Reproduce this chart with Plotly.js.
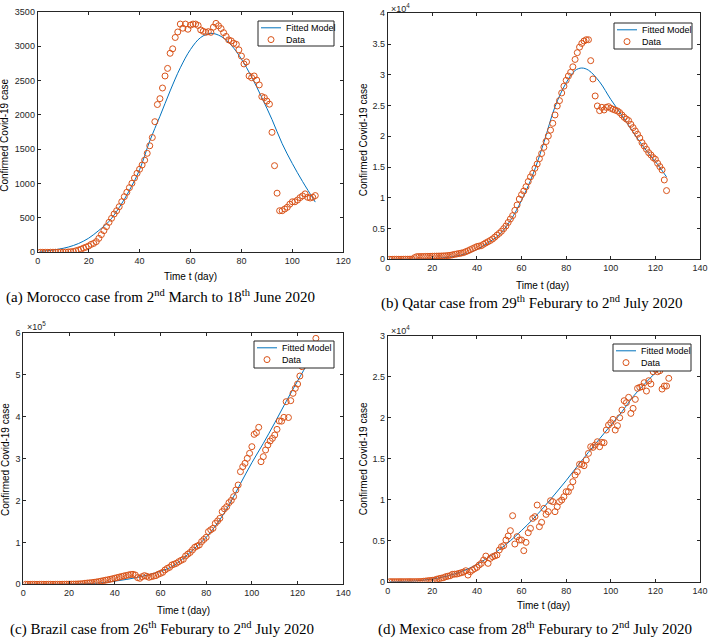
<!DOCTYPE html>
<html>
<head>
<meta charset="utf-8">
<script src="https://cdn.plot.ly/plotly-3.0.1.min.js"></script>
<style>html,body{margin:0;padding:0;background:#fff}#chart{width:709px;height:641px}</style>
</head>
<body>
<div id="chart"></div>
<script>
// ---------- DATA ----------
const seriesNames = ["Fitted Model", "Data"];
const xTitle = "Time t (day)";
const yTitle = "Confirmed Covid-19 case";
const captions = [
  "(a) Morocco case from 2<sup>nd</sup> March to 18<sup>th</sup> June 2020",
  "(b) Qatar case from 29<sup>th</sup> Feburary to 2<sup>nd</sup> July 2020",
  "(c) Brazil case from 26<sup>th</sup> Feburary to 2<sup>nd</sup> July 2020",
  "(d) Mexico case from 28<sup>th</sup> Feburary to 2<sup>nd</sup> July 2020"
];

// (a) Morocco, one value per day starting at day 1
const moroccoData = [0,0,0,0,1,1,1,2,2,2,3,
  5,8,12,22,33,45,62,75,92,115,130,155,203,257,315,373,436,494,557,605,663,736,809,873,940,1004,1081,1149,1208,1270,1340,1440,1550,1670,
  1900,2150,2235,2390,2565,2675,2895,2960,3125,3205,3320,3260,3320,3245,3305,3320,3320,3300,3235,3215,3200,3210,3200,3275,3330,3295,3255,3195,3140,3090,3075,3040,3025,2945,2855,2740,2770,2565,2540,2565,2505,2435,2265,2250,2200,2155,1745,1260,860,605,605,630,655,700,735,735,760,795,820,850,800,790,800,825];
const moroccoFitDays = [1,4,8,12,16,20,24,28,32,36,40,44,48,52,56,60,64,68,72,76,80,84,88,92,96,100,104,108,109];
const moroccoFit = [15,24,44,76,127,205,318,450,650,900,1200,1620,1979,2348,2684,2951,3125,3185,3141,3013,2811,2551,2251,1932,1580,1290,1030,790,730];

// (b) Qatar
const qatarData = [1,1,3,7,8,8,12,15,18,24,24,
  260,430,440,450,460,470,480,490,500,510,520,530,540,555,575,610,650,720,800,870,940,1010,1090,1240,1380,1560,1730,1900,2070,2150,2220,2450,2670,2860,3060,3300,3600,3930,4220,4560,4980,5420,5990,6560,7100,7960,8830,9800,10500,11100,11800,12640,13400,13980,14800,15500,16360,17200,18200,19150,20050,21000,22110,23470,24930,25800,27050,28150,29100,29800,30400,31300,32500,33600,34500,35100,35500,35700,35700,
  32300,29320,26560,24930,24170,24710,24280,24710,24820,24550,24390,24250,24120,23850,23470,23090,22800,22550,21950,21410,20870,20330,19730,18970,18430,17890,17340,16970,16530,16260,15610,15070,14530,12900,11170];
const qatarFitDays = [1,10,20,25,30,35,40,45,50,55,60,65,70,75,80,84,87,90,95,100,105,110,115,120,125];
const qatarFit = [0,20,120,250,480,900,1600,2700,4000,6300,9600,13700,19000,24800,28700,30700,31100,30750,28850,26000,23400,20700,18100,15900,13400];

// (c) Brazil
const brazilData = [0,0,0,1,1,1,2,2,3,8,13,19,25,30,50,80,120,190,280,330,420,540,620,900,1100,1500,
  2500,3000,3500,4000,4800,5500,6500,7500,8700,9800,10800,11900,13200,14500,15900,17200,18600,19900,21000,22250,23500,23800,22250,15900,14300,18300,20700,19000,16700,18300,19500,20700,23800,26000,28600,34200,38000,40500,46100,48000,50100,54000,57000,59600,67500,72000,76000,81900,88200,91000,93800,101700,107000,112000,125600,130000,133500,145400,151000,157300,173200,180000,185200,194700,200000,209000,224900,236800,268600,280500,288500,300400,312300,328200,357600,361600,374300,292400,304400,320300,332200,341700,348100,356000,369500,389400,389000,398100,435500,397700,437900,455400,467300,477600,496700,518900,530000,540000,552000,562000,572000,586500];
const brazilFitDays = [1,10,20,30,35,40,45,50,55,60,65,70,75,80,85,90,95,100,105,110,115,120,125,128];
const brazilFit = [0,100,500,2000,4000,7500,11500,16500,23000,31000,42000,62000,86000,112000,146000,189000,240000,290000,336000,385000,436000,485000,532000,560000];

// (d) Mexico
const mexicoData = [0,1,2,3,4,4,4,5,6,6,6,7,10,10,20,50,80,120,140,170,200,300,370,430,490,610,670,730,900,920,940,1020,1100,1180,1340,810,1220,1420,1600,1750,2040,2240,2650,3130,2240,2850,3050,3150,3260,3870,4270,4400,5090,5580,6230,8060,4600,5500,5090,5090,3790,4800,5980,6510,7730,7940,9360,6720,7250,8950,8220,8550,9890,9770,8550,9160,9770,9970,10380,10990,10990,11520,12210,13020,13430,14330,14330,14160,14860,15670,16480,16400,16690,17090,16480,17010,16970,18520,19130,19410,19820,18520,19050,20020,20960,22100,21860,22510,20550,21160,22260,23610,23730,23810,24300,23280,24540,24140,25640,25930,25640,25760,23520,23890,23890,24830];
const mexicoFitDays = [1,10,15,20,25,30,35,40,45,50,55,60,65,70,75,80,85,90,95,100,105,110,115,120,126];
const mexicoFit = [0,60,150,330,580,950,1450,2100,2950,3900,5000,6250,7600,9100,10700,12350,14100,15800,17450,19100,20750,22600,24100,25500,27000];

// tick labels
const tickA = [0,500,1000,1500,2000,2500,3000,3500];
const tickE4 = [0,5000,10000,15000,20000,25000,30000,35000,40000];
const tickE4Text = ["0","0.5","1","1.5","2","2.5","3","3.5","4"];
const tickE5 = [0,100000,200000,300000,400000,500000,600000];
const tickE5Text = ["0","1","2","3","4","5","6"];

// ---------- BUILD ----------
function days(n){ const d=[]; for(let i=1;i<=n;i++) d.push(i); return d; }

const BLUE = "#0072BD", ORANGE = "#D95319", AX = "#262626";
const sans = "Liberation Sans, Arial, Helvetica, sans-serif";

const panels = [
  {data: moroccoData, fd: moroccoFitDays, fv: moroccoFit},
  {data: qatarData, fd: qatarFitDays, fv: qatarFit},
  {data: brazilData, fd: brazilFitDays, fv: brazilFit},
  {data: mexicoData, fd: mexicoFitDays, fv: mexicoFit}
];

const traces = [];
panels.forEach((p, i) => {
  const sfx = i === 0 ? "" : String(i + 1);
  traces.push({
    x: p.fd, y: p.fv, type: "scatter", mode: "lines", name: seriesNames[0],
    line: {color: BLUE, width: 1, shape: "spline", smoothing: 1},
    xaxis: "x" + sfx, yaxis: "y" + sfx, showlegend: false, hoverinfo: "skip"
  });
  traces.push({
    x: days(p.data.length), y: p.data, type: "scatter", mode: "markers", name: seriesNames[1],
    marker: {symbol: "circle-open", size: 6, color: ORANGE, line: {width: 1, color: ORANGE}},
    xaxis: "x" + sfx, yaxis: "y" + sfx, showlegend: false, hoverinfo: "skip"
  });
});

function ax(extra){
  return Object.assign({
    showline: true, linecolor: AX, linewidth: 1, mirror: "ticks",
    ticks: "inside", ticklen: 3, tickwidth: 1, tickcolor: AX,
    showgrid: false, zeroline: false,
    tickfont: {family: sans, size: 9, color: AX}, fixedrange: true
  }, extra);
}

const W = 709, H = 641;
const px = v => v / W, py = v => 1 - v / H;

const layout = {
  width: W, height: H, margin: {l: 0, r: 0, t: 0, b: 0},
  paper_bgcolor: "#fff", plot_bgcolor: "#fff", showlegend: false,
  font: {family: sans, color: AX},
  xaxis:  ax({domain: [px(37.7), px(343.3)], range: [0, 120], dtick: 20, tick0: 0, anchor: "y"}),
  yaxis:  ax({domain: [py(252.3), py(11.7)], range: [0, 3500], tickvals: tickA, anchor: "x"}),
  xaxis2: ax({domain: [px(387.7), px(700)], range: [0, 140], dtick: 20, tick0: 0, anchor: "y2"}),
  yaxis2: ax({domain: [py(259.3), py(13.3)], range: [0, 40000], tickvals: tickE4, ticktext: tickE4Text, anchor: "x2"}),
  xaxis3: ax({domain: [px(23.3), px(343.3)], range: [0, 140], dtick: 20, tick0: 0, anchor: "y3"}),
  yaxis3: ax({domain: [py(584.3), py(332.7)], range: [0, 600000], tickvals: tickE5, ticktext: tickE5Text, anchor: "x3"}),
  xaxis4: ax({domain: [px(387.7), px(700)], range: [0, 140], dtick: 20, tick0: 0, anchor: "y4"}),
  yaxis4: ax({domain: [py(581.7), py(336)], range: [0, 30000], tickvals: tickE4.slice(0, 7), ticktext: tickE4Text.slice(0, 7), anchor: "x4"}),
  annotations: [],
  shapes: []
};

// compact MATLAB-style legend boxes: [left, top, right, bottom] in px
const legendBoxes = [[258, 21, 334, 46], [614, 23, 692, 49], [254, 341, 334, 368], [613, 344, 691, 371]];
legendBoxes.forEach(b => {
  const [l, t, r, btm] = b;
  layout.shapes.push({type: "rect", xref: "paper", yref: "paper", layer: "above",
    x0: px(l), x1: px(r), y0: py(btm), y1: py(t),
    fillcolor: "#fff", line: {color: AX, width: 1}});
  const y1 = t + 6.8, y2 = t + 18.6;
  layout.shapes.push({type: "line", xref: "paper", yref: "paper", layer: "above",
    x0: px(l + 3), x1: px(l + 23), y0: py(y1), y1: py(y1), line: {color: BLUE, width: 1}});
  layout.shapes.push({type: "circle", xref: "paper", yref: "paper", layer: "above",
    xsizemode: "pixel", ysizemode: "pixel", xanchor: px(l + 13), yanchor: py(y2),
    x0: -3, x1: 3, y0: -3, y1: 3, line: {color: ORANGE, width: 1}, fillcolor: "rgba(0,0,0,0)"});
  layout.annotations.push({text: seriesNames[0], xref: "paper", yref: "paper",
    x: px(l + 25.5), y: py(y1), xanchor: "left", yanchor: "middle", showarrow: false,
    font: {family: sans, size: 9, color: "#000"}});
  layout.annotations.push({text: seriesNames[1], xref: "paper", yref: "paper",
    x: px(l + 25.5), y: py(y2), xanchor: "left", yanchor: "middle", showarrow: false,
    font: {family: sans, size: 9, color: "#000"}});
});

// captions
const capPos = [[160, 297], [531.5, 302], [162, 628], [535, 628]];
captions.forEach((c, i) => {
  layout.annotations.push({
    text: c, xref: "paper", yref: "paper", x: px(capPos[i][0]), y: py(capPos[i][1]),
    xanchor: "center", yanchor: "middle", showarrow: false,
    font: {family: "Liberation Serif, Times New Roman, serif", size: 15, color: "#000"}
  });
});

// axis titles
const xtPos = [[190.5, 277], [542.8, 285], [183.3, 610], [543.7, 605]];
const ytPos = [[5, 135.8], [363.3, 140], [5, 460], [363.3, 459]];
for (let i = 0; i < 4; i++) {
  layout.annotations.push({
    text: xTitle, xref: "paper", yref: "paper", x: px(xtPos[i][0]), y: py(xtPos[i][1]),
    xanchor: "center", yanchor: "middle", showarrow: false,
    font: {family: sans, size: 10, color: "#000"}
  });
  layout.annotations.push({
    text: yTitle, xref: "paper", yref: "paper", x: px(ytPos[i][0]), y: py(ytPos[i][1]),
    xanchor: "center", yanchor: "middle", showarrow: false, textangle: -90,
    font: {family: sans, size: 10, color: "#000"}
  });
}

// exponent labels
const expLabels = [["×10<sup>4</sup>", 389, 8], ["×10<sup>5</sup>", 25, 326], ["×10<sup>4</sup>", 389, 330]];
expLabels.forEach(e => {
  layout.annotations.push({
    text: e[0], xref: "paper", yref: "paper", x: px(e[1]), y: py(e[2]),
    xanchor: "left", yanchor: "middle", showarrow: false,
    font: {family: sans, size: 9, color: AX}
  });
});

Plotly.newPlot("chart", traces, layout, {staticPlot: true, displayModeBar: false});
</script>
</body>
</html>
